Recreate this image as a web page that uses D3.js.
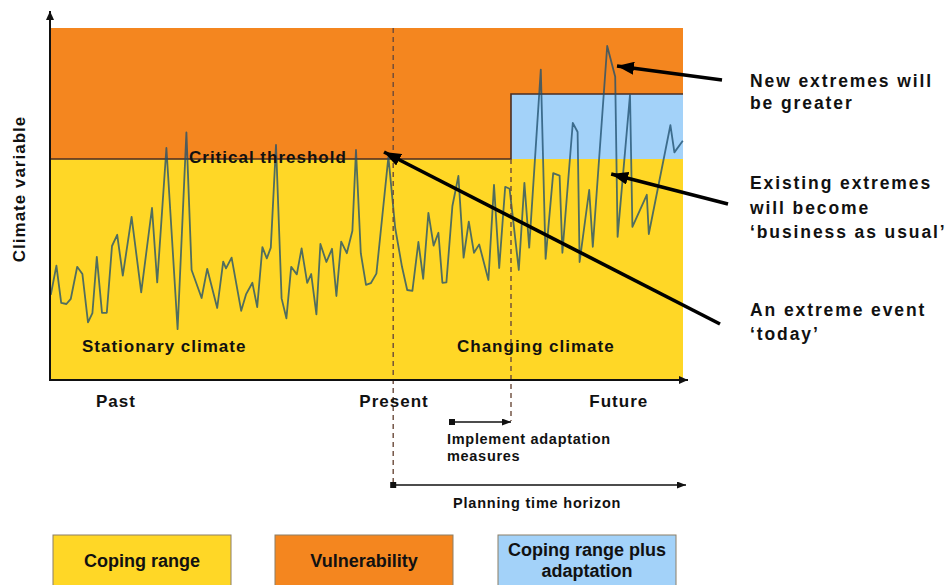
<!DOCTYPE html>
<html><head><meta charset="utf-8">
<script src="https://cdn.jsdelivr.net/npm/d3@7/dist/d3.min.js"></script>
<style>
body{margin:0;background:#fff;}
svg{display:block;}
text{font-family:"Liberation Sans",Arial,Helvetica,sans-serif;font-weight:bold;fill:#111;}
</style>
</head><body>
<svg id="c" width="947" height="585"></svg>
<script>
// ---- data (abstract time units / climate-variable units) ----
const times = [0.2,1.6,2.8,4.1,5.2,6.8,8.1,9.5,10.6,11.7,13.0,14.2,15.5,16.8,18.2,20.4,22.8,25.5,26.8,29.1,
  31.9,34.1,35.4,37.9,39.3,41.8,43.3,44.0,45.4,47.8,49.0,50.6,51.8,53.1,54.2,55.2,56.5,57.9,59.1,60.3,
  61.7,62.9,64.3,65.3,66.6,67.6,69.1,70.5,71.6,72.8,74.2,75.6,76.5,77.7,79.0,80.2,81.6,84.6,86.3,88.0,
  89.3,90.6,92.1,93.3,94.6,95.9,97.1,98.1,99.1,100.6,102.1,103.4,104.7,106.0,107.3,109.6,111.0,112.3,113.8,114.9,
  117.2,118.6,119.8,122.7,123.9,125.8,127.4,128.1,130.7,131.9,132.4,134.8,135.7,139.3,141.3,141.9,145.0,145.6,149.2,149.7,
  155.1,156.1,158.2];
const values = [21.3,28.6,19.3,19.0,20.3,28.3,26.5,14.4,16.7,30.8,16.8,16.8,33.5,36.3,26.1,40.8,21.9,43.0,24.4,58.0,
  12.7,61.9,27.5,20.5,27.8,18.0,29.6,27.9,30.6,17.3,21.4,24.3,18.2,33.2,30.4,33.1,58.8,20.4,15.4,28.3,
  26.4,32.9,24.3,26.5,16.4,34.0,29.5,32.8,21.0,34.6,31.7,37.3,57.5,31.7,23.8,24.2,26.6,55.8,38.0,28.3,
  22.5,22.3,34.5,25.3,41.8,33.6,36.8,24.3,24.4,43.5,51.0,30.6,39.6,31.8,33.9,25.0,48.8,28.0,48.3,47.8,
  27.5,49.3,33.1,77.6,30.3,51.7,51.1,31.8,64.3,62.0,29.5,47.5,33.3,83.5,75.8,35.8,71.3,38.3,46.3,36.5,
  63.7,56.9,59.8];
const tMax = 158.25, vMax = 88;
const threshold = 55.25;          // critical threshold (coping range top)
const adaptedThreshold = 71.5;    // coping range plus adaptation
const presentT = 85.8;
const adaptT = 115.25;
const implementStartT = 100.5;
const periodLabels = ["Past","Present","Future"];
const periodT = [16.5, 86, 142.2];
const regionLabels = ["Stationary climate","Changing climate"];
const legendLabels = [["Coping range"],["Vulnerability"],["Coping range plus","adaptation"]];
const legendColors = ["#ffd726","#f4861f","#a3d2f9"];
const noteLines = [["New extremes will","be greater"],["Existing extremes","will become","\u2018business as usual\u2019"],["An extreme event","\u2018today\u2019"]];
const noteTips = [[141.75,78.5],[140.3,51.5],[83.5,57]];

// ---- layout ----
const svg = d3.select("#c");
const x = d3.scaleLinear().domain([0,tMax]).range([50,683]);
const y = d3.scaleLinear().domain([0,vMax]).range([380,28]);
const YELLOW = legendColors[0], ORANGE = legendColors[1], BLUE = legendColors[2];

const defs = svg.append("defs");
function marker(id, w, h, color){
  defs.append("marker").attr("id",id).attr("markerUnits","userSpaceOnUse")
    .attr("viewBox",`0 0 ${w} ${h}`).attr("refX",w).attr("refY",h/2)
    .attr("markerWidth",w).attr("markerHeight",h).attr("orient","auto")
    .append("path").attr("d",`M0,0L${w},${h/2}L0,${h}Z`).attr("fill",color);
}
marker("ax",9,8,"#111");
marker("big",17,13,"#000");
marker("small",9,7,"#111");

// regions
svg.append("rect").attr("x",x(0)).attr("y",y(vMax)).attr("width",x(tMax)-x(0)).attr("height",y(threshold)-y(vMax)).attr("fill",ORANGE);
svg.append("rect").attr("x",x(adaptT)).attr("y",y(adaptedThreshold)).attr("width",x(tMax)-x(adaptT)).attr("height",y(threshold)-y(adaptedThreshold)).attr("fill",BLUE);
svg.append("rect").attr("x",x(0)).attr("y",y(threshold)).attr("width",x(tMax)-x(0)).attr("height",y(0)-y(threshold)).attr("fill",YELLOW);

// threshold step line
svg.append("path").attr("fill","none").attr("stroke","#4a2e24").attr("stroke-width",1.6)
  .attr("d",d3.line()([[x(0),y(threshold)],[x(adaptT),y(threshold)],[x(adaptT),y(adaptedThreshold)],[x(tMax),y(adaptedThreshold)]]));

// climate series
const pts = times.map((t,i)=>[t,values[i]]);
svg.append("path").datum(pts).attr("fill","none").attr("stroke","#1f4f6e").attr("stroke-opacity",0.78)
  .attr("stroke-width",1.8).attr("stroke-linejoin","round")
  .attr("d",d3.line().x(d=>x(d[0])).y(d=>y(d[1])));

// dashed verticals
svg.append("line").attr("x1",x(presentT)).attr("x2",x(presentT)).attr("y1",y(vMax)).attr("y2",484)
  .attr("stroke","#6b4a3a").attr("stroke-width",1.4).attr("stroke-dasharray","5,4");
svg.append("line").attr("x1",x(adaptT)).attr("x2",x(adaptT)).attr("y1",y(threshold)).attr("y2",421)
  .attr("stroke","#6b4a3a").attr("stroke-width",1.4).attr("stroke-dasharray","5,4");

// axes
svg.append("line").attr("x1",x(0)).attr("x2",x(0)).attr("y1",y(0)+1).attr("y2",11).attr("stroke","#111").attr("stroke-width",2).attr("marker-end","url(#ax)");
svg.append("line").attr("x1",x(0)-1).attr("x2",688).attr("y1",y(0)).attr("y2",y(0)).attr("stroke","#111").attr("stroke-width",2).attr("marker-end","url(#ax)");

// text labels
svg.append("text").attr("transform","translate(25,189) rotate(-90)").attr("text-anchor","middle")
  .attr("font-size",17).attr("letter-spacing",1).text("Climate variable");
svg.append("text").attr("x",189).attr("y",163).attr("font-size",17).attr("letter-spacing",1).attr("fill","#2b1a14").text("Critical threshold");
svg.selectAll(".reg").data(regionLabels).join("text").attr("x",(d,i)=>i?457:82).attr("y",352)
  .attr("font-size",17).attr("letter-spacing",1).text(d=>d);
svg.selectAll(".per").data(periodLabels).join("text").attr("x",(d,i)=>x(periodT[i])).attr("y",407)
  .attr("text-anchor","middle").attr("font-size",17).attr("letter-spacing",1).text(d=>d);

// implement adaptation arrow
svg.append("rect").attr("x",x(implementStartT)-3).attr("y",419).attr("width",6).attr("height",6).attr("fill","#111");
svg.append("line").attr("x1",x(implementStartT)).attr("x2",x(adaptT)).attr("y1",422).attr("y2",422)
  .attr("stroke","#111").attr("stroke-width",1.5).attr("marker-end","url(#small)");
svg.append("text").attr("x",447).attr("y",444).attr("font-size",14.5).attr("letter-spacing",0.7).text("Implement adaptation");
svg.append("text").attr("x",447).attr("y",461).attr("font-size",14.5).attr("letter-spacing",0.7).text("measures");

// planning horizon arrow
svg.append("rect").attr("x",x(presentT)-3).attr("y",482).attr("width",6).attr("height",6).attr("fill","#111");
svg.append("line").attr("x1",x(presentT)).attr("x2",686).attr("y1",485).attr("y2",485)
  .attr("stroke","#111").attr("stroke-width",1.5).attr("marker-end","url(#small)");
svg.append("text").attr("x",453).attr("y",508).attr("font-size",14.5).attr("letter-spacing",0.8).text("Planning time horizon");

// annotation notes
const noteY = [[81,103],[183,208,232],[310,334]];
const tails = [[722,80],[728,204],[720,324]];
noteLines.forEach((lines,k)=>{
  lines.forEach((ln,j)=>{
    svg.append("text").attr("x",750).attr("y",noteY[k][j]).attr("dominant-baseline","central")
      .attr("font-size",17.5).attr("letter-spacing",1.9).text(ln);
  });
  const tx = x(noteTips[k][0]), ty = y(noteTips[k][1]);
  const [sx,sy] = tails[k];
  svg.append("line").attr("x1",sx).attr("y1",sy).attr("x2",tx).attr("y2",ty)
    .attr("stroke","#000").attr("stroke-width",3.6).attr("marker-end","url(#big)");
});

// legend boxes
const legX = [53,275,498];
legendLabels.forEach((lines,i)=>{
  svg.append("rect").attr("x",legX[i]).attr("y",535).attr("width",178).attr("height",60)
    .attr("fill",legendColors[i]).attr("stroke","#8c7f66").attr("stroke-width",1);
  const cy = lines.length===1 ? [561] : [550,571];
  lines.forEach((ln,j)=>{
    svg.append("text").attr("x",legX[i]+89).attr("y",cy[j]).attr("dominant-baseline","central")
      .attr("text-anchor","middle").attr("font-size",18)
      .attr("font-family","'Liberation Sans Narrow','Arial Narrow',sans-serif")
      .attr("font-stretch","condensed").text(ln);
  });
});
</script>
</body></html>
